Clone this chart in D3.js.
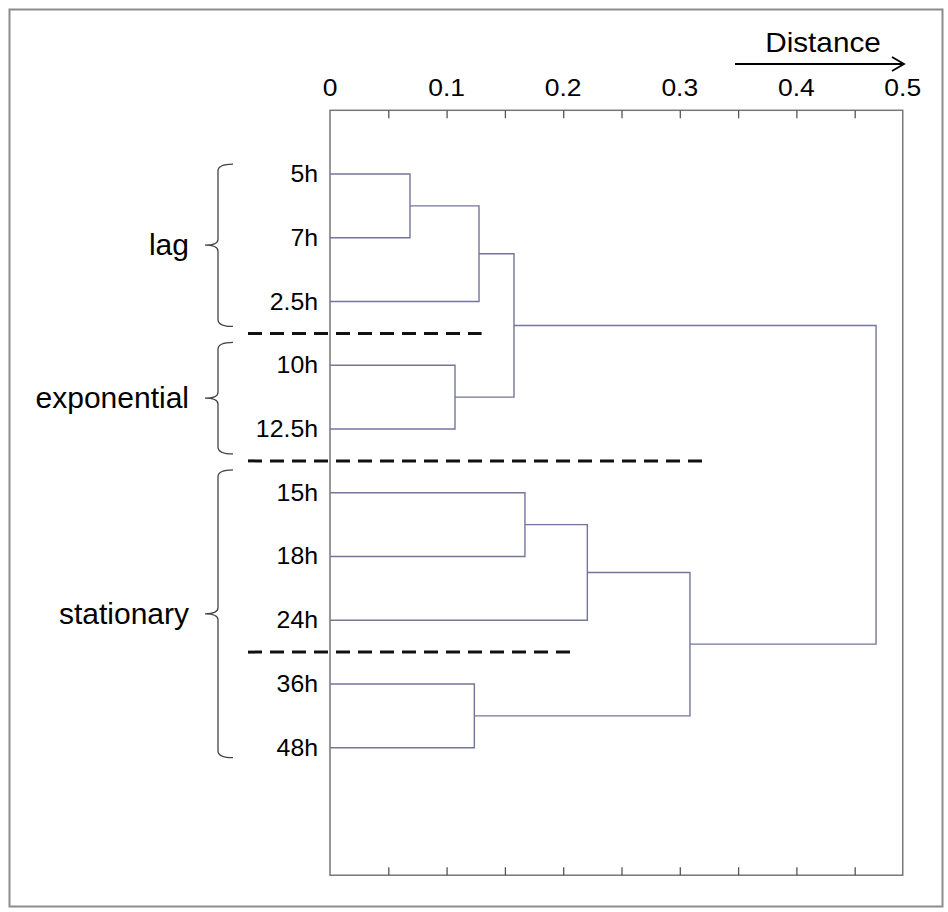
<!DOCTYPE html>
<html>
<head>
<meta charset="utf-8">
<script src="https://cdn.jsdelivr.net/npm/d3@7"></script>
<style>
  body { margin: 0; background: #fff; }
  text { font-family: Arial, "Liberation Sans", sans-serif; fill: #000; }
</style>
</head>
<body>
<svg id="chart" width="948" height="912"></svg>
<script>
// Leaf order along the vertical axis (top to bottom)
const leaves = ["5h", "7h", "2.5h", "10h", "12.5h", "15h", "18h", "24h", "36h", "48h"];

// Linkage: merge k joins mergeLeft[k] and mergeRight[k] at mergeHeight[k]; merged clusters are named "m" + k
const mergeLeft   = ["5h", "m0",   "10h",   "m1", "15h", "m4",  "36h", "m5", "m3"];
const mergeRight  = ["7h", "2.5h", "12.5h", "m2", "18h", "24h", "48h", "m6", "m7"];
const mergeHeight = [0.0686, 0.1278, 0.1072, 0.1578, 0.1672, 0.2207, 0.1238, 0.3087, 0.4683];

// Growth phases bracketed on the left
const groupNames = ["lag", "exponential", "stationary"];
const groupFirst = ["5h", "10h", "15h"];
const groupLast  = ["2.5h", "12.5h", "48h"];

// Dashed cut lines: drawn below the given leaf, reaching out to the given distance
const cutAfter    = ["2.5h", "12.5h", "24h"];
const cutDistance = [0.130, 0.3233, 0.2075];

// Distance axis
const tickLabelValues = [0, 0.1, 0.2, 0.3, 0.4, 0.5];
const tickLabels      = ["0", "0.1", "0.2", "0.3", "0.4", "0.5"];
const minorTicks      = [0.05, 0.1, 0.15, 0.2, 0.25, 0.3, 0.35, 0.4, 0.45];
const axisMax = 0.4912;

const svg = d3.select("#chart");

const x = d3.scaleLinear().domain([0, 0.5]).range([330, 913]);
const y = d3.scaleLinear().domain([0, 12]).range([110.3, 875.2]);
const leafY = name => y(leaves.indexOf(name) + 1);

const boxLeft = x(0), boxRight = x(axisMax), boxTop = y(0), boxBottom = y(12);

// Text placed with a slight horizontal stretch
const stretched = (sel, sx) =>
  sel.attr("transform", function () {
    const tx = +this.getAttribute("data-x"), ty = +this.getAttribute("data-y");
    return `translate(${tx},${ty}) scale(${sx},1)`;
  });

// Outer frame
svg.append("rect")
  .attr("x", 9.5).attr("y", 9.5).attr("width", 933).attr("height", 897)
  .attr("fill", "none").attr("stroke", "#8c8c8c").attr("stroke-width", 2);

// Plot box
svg.append("rect")
  .attr("x", boxLeft).attr("y", boxTop).attr("width", boxRight - boxLeft).attr("height", boxBottom - boxTop)
  .attr("fill", "none").attr("stroke", "#777").attr("stroke-width", 1.5);

// Inward ticks on top and bottom
const topAxis = d3.axisTop(x).tickValues(minorTicks).tickSize(-8).tickFormat("");
const botAxis = d3.axisBottom(x).tickValues(minorTicks).tickSize(-8).tickFormat("");
[[topAxis, boxTop], [botAxis, boxBottom]].forEach(([ax, yy]) => {
  const g = svg.append("g").attr("transform", `translate(0,${yy})`).call(ax);
  g.select(".domain").remove();
  g.selectAll(".tick line").attr("stroke", "#555").attr("stroke-width", 1.3);
});

// Tick labels above the box
svg.append("g").selectAll("text")
  .data(tickLabelValues)
  .join("text")
  .attr("data-x", d => Math.min(x(d), boxRight))
  .attr("data-y", 96)
  .attr("text-anchor", "middle")
  .style("font-size", "23px")
  .text((d, i) => tickLabels[i])
  .call(stretched, 1.15);

// Axis title with arrow
svg.append("text")
  .attr("data-x", 823).attr("data-y", 52)
  .attr("text-anchor", "middle")
  .style("font-size", "27px")
  .text("Distance")
  .call(stretched, 1.1);
svg.append("line")
  .attr("x1", 735).attr("x2", 903).attr("y1", 64).attr("y2", 64)
  .attr("stroke", "#000").attr("stroke-width", 1.8);
svg.append("path")
  .attr("d", "M892,57 L904,64 L892,71")
  .attr("fill", "none").attr("stroke", "#000").attr("stroke-width", 1.8);

// Dendrogram
const nodes = {};
leaves.forEach(n => { nodes[n] = { y: leafY(n), d: 0 }; });
const linkG = svg.append("g")
  .attr("fill", "none").attr("stroke", "#75759a").attr("stroke-width", 1.4);
mergeLeft.forEach((l, k) => {
  const a = nodes[l], b = nodes[mergeRight[k]], h = mergeHeight[k];
  linkG.append("path")
    .attr("d", `M${x(a.d)},${a.y}H${x(h)}V${b.y}H${x(b.d)}`);
  nodes["m" + k] = { y: (a.y + b.y) / 2, d: h };
});

// Leaf labels
svg.append("g").selectAll("text")
  .data(leaves)
  .join("text")
  .attr("data-x", 318)
  .attr("data-y", d => leafY(d) + 8)
  .attr("text-anchor", "end")
  .style("font-size", "23px")
  .text(d => d)
  .call(stretched, 1.08);

// Dashed cut lines
const step = y(2) - y(1);
svg.append("g").selectAll("line")
  .data(cutAfter)
  .join("line")
  .attr("x1", 248)
  .attr("x2", (d, i) => x(cutDistance[i]))
  .attr("y1", d => leafY(d) + step / 2)
  .attr("y2", d => leafY(d) + step / 2)
  .attr("stroke", "#111").attr("stroke-width", 3)
  .attr("stroke-dasharray", "14,8");

// Braces and phase labels
const bx = 218;
groupNames.forEach((name, i) => {
  const fi = leaves.indexOf(groupFirst[i]), li = leaves.indexOf(groupLast[i]);
  const y0 = fi === 0 ? y(fi + 1) - 10 : y(fi + 0.5) + 9;
  const y1 = li === leaves.length - 1 ? y(li + 1) + 10 : y(li + 1.5) - 7;
  const ym = (y0 + y1) / 2;
  svg.append("path")
    .attr("d", `M233,${y0} Q${bx},${y0} ${bx},${y0 + 7} L${bx},${ym - 6} Q${bx},${ym} ${bx - 13},${ym}` +
               ` Q${bx},${ym} ${bx},${ym + 6} L${bx},${y1 - 7} Q${bx},${y1} 233,${y1}`)
    .attr("fill", "none").attr("stroke", "#444").attr("stroke-width", 1.3);
  svg.append("text")
    .attr("x", 189).attr("y", ym + 10)
    .attr("text-anchor", "end")
    .style("font-size", "30px")
    .text(name);
});
</script>
</body>
</html>
